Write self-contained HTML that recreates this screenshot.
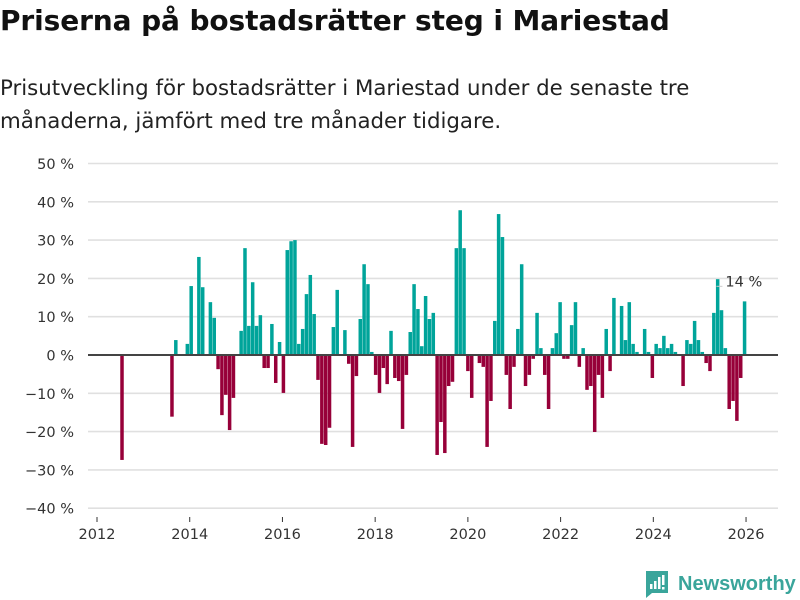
<!DOCTYPE html>
<html><head><meta charset="utf-8"><style>
body{margin:0;background:#fff;font-family:"DejaVu Sans","Liberation Sans",sans-serif;}
#wrap{position:relative;width:800px;height:600px;overflow:hidden;}
h1{position:absolute;left:0;top:4px;margin:0;font-size:28px;font-weight:bold;color:#111;letter-spacing:-0.1px;white-space:nowrap;}
p.sub{position:absolute;left:0;top:72px;margin:0;font-size:21.3px;line-height:33px;color:#222;white-space:nowrap;}
svg{position:absolute;left:0;top:0;font-family:"DejaVu Sans","Liberation Sans",sans-serif;}
</style></head><body>
<div id="wrap">
<h1>Priserna på bostadsrätter steg i Mariestad</h1>
<p class="sub">Prisutveckling för bostadsrätter i Mariestad under de senaste tre<br>månaderna, jämfört med tre månader tidigare.</p>
<svg id="chart" width="800" height="600"></svg>
</div>
<script>
const yTicks=[50,40,30,20,10,0,-10,-20,-30,-40];
const xYears=[2012,2014,2016,2018,2020,2022,2024,2026];
const startYear=2012;
const months=[6,19,20,23,24,26,27,29,30,31,32,33,34,35,37,38,39,40,41,42,43,44,45,46,47,48,49,50,51,52,53,54,55,56,57,58,59,60,61,62,64,65,66,67,68,69,70,71,72,73,74,75,76,77,78,79,80,81,82,83,84,85,86,87,88,89,90,91,92,93,94,95,96,97,99,100,101,102,103,104,105,106,107,108,109,110,111,112,113,114,115,116,117,118,119,120,121,122,123,124,125,126,127,128,129,130,131,132,133,134,136,137,138,139,140,142,143,144,145,146,147,148,149,150,152,153,154,155,156,157,158,159,160,161,162,163,164,165,166,167,168];
const values=[-27.4,-16.1,3.9,2.9,18,25.6,17.7,13.8,9.7,-3.7,-15.7,-10.4,-19.6,-11.2,6.3,27.9,7.6,19,7.6,10.4,-3.4,-3.4,8.1,-7.3,3.4,-9.9,27.4,29.7,30,2.9,6.8,15.9,20.9,10.7,-6.5,-23.2,-23.5,-19,7.3,17,6.5,-2.3,-24,-5.5,9.4,23.7,18.5,0.8,-5.2,-9.9,-3.4,-7.6,6.3,-6,-6.8,-19.3,-5.2,6,18.5,12,2.3,15.4,9.4,11,-26.1,-17.5,-25.6,-8.1,-7,27.9,37.8,27.9,-4.2,-11.2,-2.1,-3.1,-24,-12,8.9,36.8,30.8,-5.2,-14.1,-3.1,6.8,23.7,-8.1,-5.2,-1,11,1.8,-5.2,-14.1,1.8,5.7,13.8,-1,-1,7.8,13.8,-3.1,1.8,-9.1,-8.1,-20.1,-5.2,-11.2,6.8,-4.2,14.9,12.8,3.9,13.8,2.9,0.8,6.8,0.8,-6,2.9,1.8,5,1.8,2.9,0.8,-8.1,3.9,2.9,8.9,3.9,0.8,-2.1,-4.2,11,19.8,11.7,1.8,-14.1,-12,-17.2,-6,14];
const lastLabel="14 %";
const NS="http://www.w3.org/2000/svg";
const svg=document.getElementById('chart');
const y=v=>355-v*3.83;
const xm=m=>98.8+m*3.843;
const xy=yr=>97+(yr-startYear)*46.36;
function mk(t,a){const e=document.createElementNS(NS,t);for(const k in a)e.setAttribute(k,a[k]);svg.appendChild(e);return e;}
yTicks.forEach(v=>{
  if(v!==0){const g=mk('line',{x1:88,x2:778,y1:y(v),y2:y(v),stroke:'#e0e0e0','stroke-width':1.6});
  
  }
  const t=mk('text',{x:74,y:y(v)+5.5,'text-anchor':'end','font-size':14.5,fill:'#333'});
  t.textContent=(v<0?'−'+(-v):v)+' %';
  
  
});
xYears.forEach(yr=>{
  const l=mk('line',{x1:xy(yr),x2:xy(yr),y1:517,y2:522,stroke:'#333','stroke-width':1});
  
  
  const t=mk('text',{x:xy(yr),y:539,'text-anchor':'middle','font-size':14.5,fill:'#333'});
  t.textContent=yr;
  
  
});
months.forEach((m,i)=>{
  const v=values[i];
  const r=mk('rect',{x:xm(m)-1.6,width:3.5,y:Math.min(y(v),355),height:Math.abs(y(v)-355),fill:v>=0?'#00a49a':'#970039'});
  
  
});
const z=mk('line',{x1:88,x2:778,y1:355,y2:355,stroke:'#444','stroke-width':2});


const lm=months[months.length-1], lv=values[values.length-1];
const ll=mk('line',{x1:xm(lm)-28,x2:xm(lm)-22,y1:y(lv+5.5)+6,y2:y(lv+5.5)+6,stroke:'#ccc','stroke-width':1});


const lt=mk('text',{x:xm(lm)-19,y:y(lv+5.5)+6,'font-size':14.5,fill:'#333'});
lt.textContent=lastLabel;


const lg=document.createElementNS(NS,'g');


svg.appendChild(lg);
lg.innerHTML='<path d="M646 571 h22 v22 h-16 l-6 5 z" fill="#3aa59b"/><rect x="650" y="584" width="2.5" height="5" fill="#fff"/><rect x="654" y="581" width="2.5" height="8" fill="#fff"/><rect x="658" y="577" width="2.5" height="12" fill="#fff"/><rect x="662" y="575" width="2.5" height="10" fill="#fff"/><rect x="662" y="587" width="2.5" height="2.5" fill="#fff"/><text x="678" y="590" font-size="20" font-weight="bold" fill="#3aa59b" font-family="Liberation Sans, sans-serif">Newsworthy</text>';
</script>
</body></html>
